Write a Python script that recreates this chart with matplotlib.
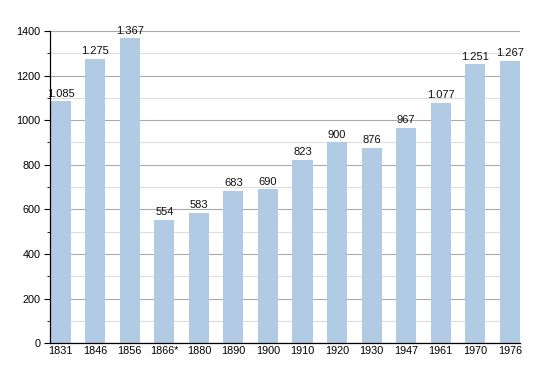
import matplotlib
matplotlib.use("Agg")
import matplotlib.pyplot as plt
from matplotlib.ticker import MultipleLocator

years = ["1831", "1846", "1856", "1866*", "1880", "1890", "1900", "1910", "1920", "1930", "1947", "1961", "1970", "1976"]
population = [1085, 1275, 1367, 554, 583, 683, 690, 823, 900, 876, 967, 1077, 1251, 1267]
value_labels = ["1.085", "1.275", "1.367", "554", "583", "683", "690", "823", "900", "876", "967", "1.077", "1.251", "1.267"]

plt.rcParams['font.family'] = ['Liberation Sans', 'DejaVu Sans']
fig = plt.figure(figsize=(5.5, 3.73), dpi=100)
ax = fig.add_axes([0.091, 0.080, 0.854, 0.837])

w = 0.58
x = list(range(len(years)))
ax.bar(x, population, width=w, color="#b2cbe4", zorder=2)
for xi, v, lab in zip(x, population, value_labels):
    ax.text(xi, v + 12, lab, ha="center", va="bottom", fontsize=8, color="#111111", zorder=3)

ax.set_xlim(-w / 2 - 0.02, len(years) - 1 + w / 2)
ax.set_ylim(0, 1400)
ax.yaxis.set_major_locator(MultipleLocator(200))
ax.yaxis.set_minor_locator(MultipleLocator(100))
ax.grid(axis="y", which="major", color="#aaaaaa", linewidth=0.8, zorder=0)
ax.grid(axis="y", which="minor", color="#dddddd", linewidth=0.8, zorder=0)
ax.set_xticks(x)
ax.set_xticklabels(years, fontsize=7.8)
ax.tick_params(axis="x", length=0, pad=2)
ax.tick_params(axis="y", which="major", length=4, labelsize=7.8, pad=3)
ax.tick_params(axis="y", which="minor", length=2)
for s in ["top", "right"]:
    ax.spines[s].set_visible(False)
ax.spines["left"].set_linewidth(0.9)
ax.spines["bottom"].set_linewidth(0.9)

fig.savefig("out.png", dpi=100)
